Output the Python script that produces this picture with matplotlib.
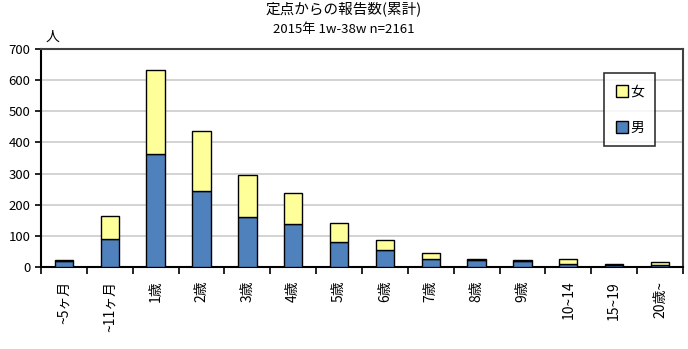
import matplotlib
matplotlib.use("Agg")
import matplotlib.pyplot as plt
import numpy as np
from matplotlib.lines import Line2D

plt.rcParams['font.family'] = ['Noto Sans CJK JP', 'DejaVu Sans']

# age groups and reported counts (male / female)
ages = ['~5ヶ月', '~11ヶ月', '1歳', '2歳', '3歳', '4歳', '5歳', '6歳',
        '7歳', '8歳', '9歳', '10~14', '15~19', '20歳~']
male = [18, 90, 362, 244, 162, 139, 80, 55, 25, 22, 18, 10, 7, 5]
female = [3, 74, 270, 193, 133, 97, 60, 32, 19, 5, 4, 17, 3, 10]

blue = '#4F81BD'
yellow = '#FFFF99'

fig = plt.figure(figsize=(6.88, 3.49), dpi=100)
ax = fig.add_axes([0.0596, 0.235, 0.933, 0.6246])

x = np.arange(len(ages))
ax.bar(x, male, width=0.4, color=blue, edgecolor='black', linewidth=1.0, zorder=3)
ax.bar(x, female, bottom=male, width=0.4, color=yellow, edgecolor='black',
       linewidth=1.0, zorder=3)

ax.set_xlim(-0.5, len(ages) - 0.5)
ax.set_ylim(0, 700)
ax.set_yticks(range(0, 701, 100))
ax.yaxis.grid(True, color='#D0D0D0', linewidth=1.3, zorder=0)
ax.tick_params(axis='y', labelsize=9.5, length=4, width=1.2, colors='black')

# ticks sit between categories, labels under each bar
ax.set_xticks(np.arange(-0.5, len(ages), 1.0))
ax.set_xticklabels([])
ax.set_xticks(x, minor=True)
ax.set_xticklabels(ages, minor=True, rotation=90, fontsize=10, va='top')
ax.tick_params(axis='x', which='major', length=5, width=1.2)
ax.tick_params(axis='x', which='minor', length=0, pad=10)

for side in ['left', 'bottom']:
    ax.spines[side].set_linewidth(1.5)
    ax.spines[side].set_color('black')
for side in ['top', 'right']:
    ax.spines[side].set_linewidth(1.5)
    ax.spines[side].set_color('#404040')

handles = [Line2D([], [], marker='s', linestyle='', markersize=8,
                  markerfacecolor=yellow, markeredgecolor='black', label='女'),
           Line2D([], [], marker='s', linestyle='', markersize=8,
                  markerfacecolor=blue, markeredgecolor='black', label='男')]
leg = ax.legend(handles=handles, loc='upper left', bbox_to_anchor=(0.866, 0.92),
                frameon=True, fancybox=False, edgecolor='black', fontsize=10,
                handletextpad=0.1, labelspacing=1.6, borderpad=0.8,
                handlelength=1.0)
leg.get_frame().set_linewidth(1.2)

fig.text(0.077, 0.875, '人', fontsize=10, ha='center', va='bottom')
fig.text(0.5, 0.997, '定点からの報告数(累計)', fontsize=10.5, ha='center', va='top')
fig.text(0.5, 0.915, '2015年 1w-38w n=2161', fontsize=9.5, ha='center', va='center')

fig.savefig('out.png', dpi=100)
